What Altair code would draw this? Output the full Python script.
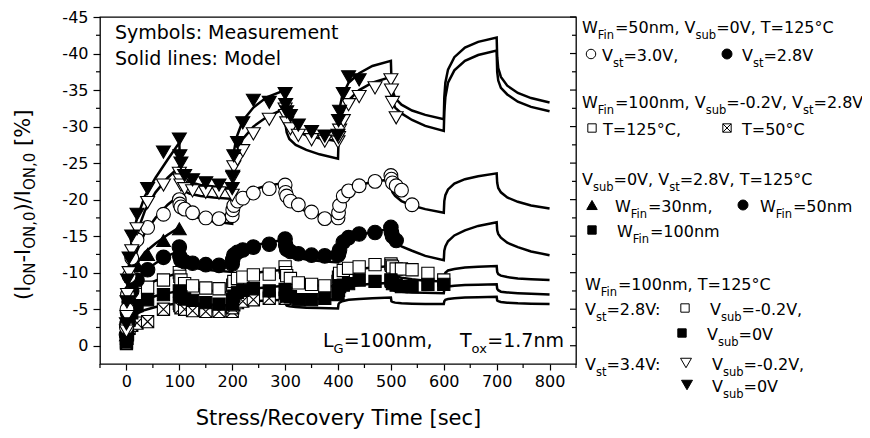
import re
import altair as alt
import pandas as pd

FONT = "DejaVu Sans"
W_PLOT, H_PLOT = 476, 347
OX, OY = 100, 17  # page position of the plot origin (8px margin + padding)

# ---------------- axes ----------------
X_DOMAIN = [-50, 850]
Y_DOMAIN = [2.5, -45]
X_TICKS = [0, 100, 200, 300, 400, 500, 600, 700, 800]
X_MINOR = [-50, 50, 150, 250, 350, 450, 550, 650, 750, 850]
Y_TICKS = [-45, -40, -35, -30, -25, -20, -15, -10, -5, 0]
Y_MINOR = [-42.5, -37.5, -32.5, -27.5, -22.5, -17.5, -12.5, -7.5, -2.5]

# ---------------- measurement data ----------------
M_T = [0, 1, 2, 5, 10, 20, 40, 70, 100,
       101, 103, 110, 125, 150, 175, 200,
       201, 203, 210, 220, 240, 270, 300,
       301, 303, 310, 325, 350, 375, 400,
       401, 403, 410, 420, 440, 470, 500,
       501, 503, 510, 520, 540, 570, 600]

# Vst=3.4V, Vsub=0V (filled down triangles)
MEAS_FT = [-3, -6, -9, -12, -15, -18, -21.5, -26.5, -28.3,
           -26, -25, -23.3, -22.7, -22.3, -22, -21.5,
           -23.2, -26, -27.8, -30.5, -33.6, -33.3, -34.5,
           -33, -32, -31.5, -30.2, -29.3, -28.7, -28.8,
           -30.8, -32.1, -34.5, -36.8, -36.4]
# Vst=3.4V, Vsub=-0.2V (open down triangles)
MEAS_OT = [-2, -4, -7, -10, -13, -16, -19.6, -22, -23.6,
           -22.7, -22, -21.5, -21.2, -21, -20.9, -20.6,
           -23, -24.5, -25.5, -26.7, -29, -31, -32.4,
           -31.5, -30.5, -29.7, -28.8, -28.2, -28, -27.9,
           -28.5, -29.5, -30.8, -33, -34.1, -35.3, -36.4,
           -35, -33.3, -31.2]
# WFin=50nm, Vst=3.0V (open circles)
MEAS_OC = [-2.5, -5, -7, -9.5, -12, -14.5, -16.2, -18, -20,
           -19.4, -19, -18.7, -18.2, -17.5, -17.4, -17.8,
           -18.6, -19.2, -19.8, -20.2, -20.9, -21.5, -22,
           -21, -20.5, -19.8, -19.3, -18.3, -17.4, -17.5,
           -18.2, -19.2, -20.5, -21.2, -21.9, -22.5, -23.3,
           -22.8, -22.3, -21.9, -21.3, -19.3]
# WFin=50nm, Vst=2.8V (filled circles)
MEAS_FC = [-1.5, -3, -4.5, -6, -7.5, -9, -10.4, -12.1, -13.5,
           -12.2, -11.7, -11.5, -11.3, -11.1, -11, -11.2,
           -11.8, -12.4, -12.8, -13.1, -13.5, -13.9, -14.6,
           -13.8, -13.2, -12.9, -12.6, -12.4, -12.3, -12.4,
           -12.6, -13.1, -14.2, -14.8, -15.3, -15.5, -16.2,
           -15.5, -15, -14.4]
# WFin=30nm (filled up triangles)
MEAS_UT = [-1.5, -3.5, -5.5, -7.5, -9.5, -11, -12.5, -14.4, -16]
# WFin=100nm, Vsub=-0.2V, T=125C (open squares)
MEAS_OS = [-1, -2.5, -3.5, -5, -6, -7, -8, -9, -10,
           -9.5, -9, -8.5, -8.2, -7.9, -7.8, -7.7,
           -8.3, -8.8, -9.2, -9.4, -9.7, -9.8, -10.8,
           -10, -9.6, -9.2, -8.6, -8.4, -8.2, -8.8,
           -9.4, -9.9, -10.3, -10.6, -10.8, -11.1, -11.2,
           -11, -10.8, -10.5, -10.5, -10.4, -9.9, -9.0]
# WFin=100nm, Vsub=0V (filled squares)
MEAS_FS = [-0.5, -1.5, -2.5, -3.5, -4.5, -5.5, -6.3, -7, -7.5,
           -7, -6.7, -6.4, -6.2, -5.9, -5.7, -5.7,
           -6.3, -6.8, -7.3, -7.6, -7.8, -7.5, -7.7,
           -7.2, -6.8, -6.7, -6.3, -6.3, -6.5, -7,
           -7.6, -8.1, -8.3, -8.5, -9, -8.8, -9,
           -8.8, -8.5, -8.3, -8.1, -8.1, -8.4, -8.4]
# WFin=100nm, T=50C (crossed squares)
MEAS_XS = [-0.3, -1, -1.6, -2.4, -2.8, -3.1, -3.3, -5, -5.8,
           -5.5, -5.2, -5, -4.8, -4.7, -4.7, -4.7,
           -5.2, -5.6, -5.9, -6.1, -6.3, -6.5, -6.5]

# ---------------- model curves ----------------
MOD_T = [0, 2, 5, 10, 20, 35, 55, 78, 100,
         101, 103, 108, 120, 140, 165, 200,
         201, 203, 208, 220, 240, 265, 300,
         301, 303, 308, 320, 340, 365, 400,
         401, 403, 408, 420, 440, 465, 500,
         501, 503, 508, 520, 540, 565, 600,
         601, 603, 608, 620, 640, 665, 700,
         701, 703, 708, 720, 740, 765, 800]

MOD_FT = [-1, -8, -11.5, -14.5, -17.5, -20.5, -23, -25.5, -27.8,
          -25, -23.8, -23, -22.4, -22, -21.8, -21.5,
          -24, -26.5, -28.5, -30.8, -32.6, -34, -35,
          -32.5, -31.2, -30.2, -29.4, -28.8, -28.4, -28,
          -30.5, -32.5, -34.2, -36, -37.3, -38.3, -39,
          -36.5, -35, -33.9, -33, -32.2, -31.6, -31,
          -34, -36, -37.8, -39.5, -40.8, -41.6, -42.2,
          -39.5, -38, -36.8, -35.6, -34.6, -33.9, -33.3]
MOD_OT = [-1, -6, -9.5, -12.5, -15.5, -18.5, -21, -23, -24.5,
          -22.5, -21.8, -21.2, -20.8, -20.5, -20.3, -20.1,
          -22.5, -24.5, -26.3, -28.3, -30, -31.3, -32.5,
          -30.2, -29.2, -28.3, -27.5, -26.8, -26.2, -25.6,
          -28, -30, -31.8, -33.6, -35, -36, -36.8,
          -34.5, -33.5, -32.6, -31.8, -30.9, -30.1, -29.4,
          -32, -34, -36, -37.7, -39, -39.8, -40.4,
          -37.5, -36.3, -35.3, -34.4, -33.4, -32.7, -32.1]
MOD_OC = [-1, -5, -8, -10.5, -13, -15.5, -17.5, -19.3, -20.6,
          -19.5, -19, -18.5, -17.9, -17.4, -17, -16.7,
          -18.3, -19.2, -20, -20.8, -21.4, -21.9, -22.3,
          -20.8, -20.2, -19.6, -19, -18.4, -17.9, -17.5,
          -19, -19.8, -20.6, -21.4, -22, -22.4, -22.8,
          -21.6, -21, -20.5, -19.8, -19.2, -18.7, -18.2,
          -19.8, -20.6, -21.4, -22.2, -22.8, -23.2, -23.6,
          -22.3, -21.6, -21, -20.3, -19.7, -19.2, -18.8]
MOD_FC = [-0.8, -3.5, -5.5, -7.2, -8.8, -10.2, -11.3, -12.3, -13,
          -12, -11.6, -11.2, -10.8, -10.5, -10.3, -10.1,
          -11.3, -12, -12.6, -13.2, -13.7, -14.1, -14.5,
          -13.3, -12.9, -12.5, -12.1, -11.8, -11.6, -11.4,
          -12.6, -13.2, -13.8, -14.5, -15.1, -15.6, -16,
          -15, -14.6, -14.2, -13.6, -13, -12.3, -11.7,
          -13, -13.6, -14.3, -15.1, -15.8, -16.4, -16.9,
          -15.8, -15.3, -14.8, -14.1, -13.5, -12.9, -12.4]
MOD_UT = [-1, -5, -7.5, -9.5, -11.3, -12.8, -14, -15.2, -16.2]
MOD_OS = [-0.5, -3.5, -5, -6.3, -7.3, -8.2, -8.9, -9.5, -10,
          -9.2, -8.8, -8.4, -8, -7.7, -7.5, -7.3,
          -8.2, -8.7, -9.1, -9.5, -9.9, -10.2, -10.4,
          -9.5, -9.2, -8.9, -8.6, -8.4, -8.2, -8.1,
          -9, -9.4, -9.8, -10.2, -10.5, -10.7, -10.9,
          -10.1, -9.8, -9.5, -9.3, -9.1, -8.9, -8.8,
          -9.6, -10, -10.3, -10.5, -10.7, -10.8, -10.9,
          -10.1, -9.8, -9.6, -9.4, -9.2, -9.1, -9.0]
MOD_FS = [-0.3, -2.5, -3.8, -4.8, -5.6, -6.3, -6.8, -7.2, -7.5,
          -6.8, -6.5, -6.2, -5.9, -5.7, -5.6, -5.5,
          -6.3, -6.7, -7.1, -7.5, -7.8, -8, -8.2,
          -7.4, -7.1, -6.9, -6.7, -6.5, -6.4, -6.3,
          -7.2, -7.5, -7.8, -8.1, -8.3, -8.5, -8.6,
          -7.9, -7.7, -7.5, -7.4, -7.3, -7.25, -7.2,
          -7.7, -7.9, -8.1, -8.2, -8.3, -8.35, -8.4,
          -7.8, -7.6, -7.4, -7.3, -7.2, -7.1, -7.0]
MOD_XS = [-0.2, -2, -3, -3.8, -4.4, -4.9, -5.3, -5.6, -5.8,
          -5.3, -5.1, -5, -4.9, -4.8, -4.7, -4.6,
          -5.2, -5.5, -5.7, -5.9, -6.1, -6.2, -6.3,
          -5.7, -5.5, -5.4, -5.3, -5.2, -5.15, -5.1,
          -5.7, -5.9, -6.1, -6.3, -6.4, -6.5, -6.6,
          -6.1, -6, -5.9, -5.8, -5.75, -5.7, -5.7,
          -6.1, -6.3, -6.4, -6.5, -6.6, -6.65, -6.7,
          -6.2, -6.1, -6, -5.9, -5.8, -5.75, -5.7]

MODELS = {"FT": MOD_FT, "OT": MOD_OT, "OC": MOD_OC, "FC": MOD_FC,
          "UT": MOD_UT, "OS": MOD_OS, "FS": MOD_FS, "XS": MOD_XS}

XBOX = "M-1,-1L1,-1L1,1L-1,1Z M-1,-1L1,1 M1,-1L-1,1"

# ---------------- scales / encodings ----------------
XS = alt.Scale(domain=X_DOMAIN, nice=False, zero=False)
YS = alt.Scale(domain=Y_DOMAIN, nice=False, zero=False)
AX_X = alt.Axis(values=X_TICKS, tickSize=6, tickWidth=1.2, tickColor="black",
                domain=False, grid=False, labelFontSize=16, labelColor="black",
                labelPadding=3, labelFlush=False, labelFont=FONT,
                title="Stress/Recovery Time [sec]", titleFontSize=21,
                titleFontWeight="normal", titleColor="black", titleFont=FONT,
                titleY=60, titleBaseline="alphabetic")
AX_Y = alt.Axis(values=Y_TICKS, tickSize=7, tickWidth=1.2, tickColor="black",
                domain=False, grid=False, labelFontSize=16, labelColor="black",
                labelPadding=5, labelFont=FONT, labelExpr="'' + datum.value",
                title=None)
X_ENC = alt.X("t:Q", scale=XS, axis=AX_X)
Y_ENC = alt.Y("v:Q", scale=YS, axis=AX_Y)

DUMMY = pd.DataFrame({"k": [0]})

layers = []

# model lines
rows = []
for name, vals in MODELS.items():
    for i, (t, v) in enumerate(zip(MOD_T, vals)):
        rows.append({"t": t, "v": v, "m": name, "o": i})
model_df = pd.DataFrame(rows)
layers.append(
    alt.Chart(model_df).mark_line(color="black", strokeWidth=2.5)
    .encode(x=X_ENC, y=Y_ENC, detail="m:N", order="o:Q")
)

# measurement markers
def marker_layer(vals, shape, fill, size):
    df = pd.DataFrame({"t": M_T[:len(vals)], "v": vals})
    return alt.Chart(df).mark_point(shape=shape, filled=True, fill=fill, stroke="black",
                                    strokeWidth=1.1, size=size, opacity=1).encode(x=X_ENC, y=Y_ENC)

layers += [
    marker_layer(MEAS_XS, XBOX, "white", 150),
    marker_layer(MEAS_OS, "square", "white", 150),
    marker_layer(MEAS_FS, "square", "black", 150),
    marker_layer(MEAS_UT, "triangle-up", "black", 190),
    marker_layer(MEAS_FC, "circle", "black", 210),
    marker_layer(MEAS_OC, "circle", "white", 190),
    marker_layer(MEAS_OT, "triangle-down", "white", 196),
    marker_layer(MEAS_FT, "triangle-down", "black", 196),
]

# minor / mirrored ticks
layers.append(alt.Chart(pd.DataFrame({"t": X_MINOR})).mark_rule(color="black", strokeWidth=1.2)
              .encode(x=X_ENC, y=alt.value(H_PLOT), y2=alt.value(H_PLOT + 4)))
layers.append(alt.Chart(pd.DataFrame({"v": Y_MINOR})).mark_rule(color="black", strokeWidth=1.2)
              .encode(y=Y_ENC, x=alt.value(-4), x2=alt.value(0)))
layers.append(alt.Chart(pd.DataFrame({"v": Y_TICKS})).mark_rule(color="black", strokeWidth=1.2)
              .encode(y=Y_ENC, x=alt.value(W_PLOT - 6), x2=alt.value(W_PLOT)))
layers.append(alt.Chart(pd.DataFrame({"v": Y_MINOR})).mark_rule(color="black", strokeWidth=1.2)
              .encode(y=Y_ENC, x=alt.value(W_PLOT - 4), x2=alt.value(W_PLOT)))

# ---------------- rich text helpers ----------------
CW = {" ": .318, "%": .950, "(": .390, ")": .390, ",": .318, "-": .361, ".": .318,
      "/": .337, ":": .337, "=": .838, "[": .390, "]": .390, "°": .500,
      "C": .698, "F": .576, "G": .775, "I": .295, "L": .557, "M": .863, "N": .748,
      "O": .787, "S": .635, "T": .611, "V": .684, "W": .989,
      "a": .613, "b": .635, "c": .550, "d": .635, "e": .615, "i": .278, "l": .278,
      "m": .974, "n": .634, "o": .612, "r": .411, "s": .521, "t": .392, "u": .634,
      "x": .592, "y": .592}
for d in "0123456789":
    CW[d] = .636


def tw(s, size):
    return sum(CW.get(ch, 0.6) for ch in s) * size


def text_layer(txt, px, py, fs, angle=0):
    kw = dict(text=txt, font=FONT, fontSize=fs, align="left", baseline="alphabetic", color="black")
    if angle:
        kw["angle"] = angle
    return alt.Chart(DUMMY).mark_text(**kw).encode(x=alt.value(px), y=alt.value(py))


def rich(markup, x, y, size, sub, shift, angle=0):
    out = []
    pos = 0.0
    for part in re.split(r"(_\{[^}]*\})", markup):
        if not part:
            continue
        is_sub = part.startswith("_{")
        txt = part[2:-1] if is_sub else part
        fs = sub if is_sub else size
        lead = len(txt) - len(txt.lstrip(" "))
        core = txt.strip(" ")
        start = pos + tw(" " * lead, fs)
        if core:
            if angle == 0:
                px, py = x + start, y + (shift if is_sub else 0)
            else:
                px, py = x + (shift if is_sub else 0), y - start
            out.append(text_layer(core, px - OX, py - OY, fs, angle))
        pos += tw(txt, fs)
    return out


def sym(px, py, shape, fill, size):
    return alt.Chart(DUMMY).mark_point(shape=shape, filled=True, fill=fill, stroke="black",
                                       strokeWidth=1, size=size, opacity=1).encode(
        x=alt.value(px - OX), y=alt.value(py - OY))


# texts inside the plot
layers += rich("Symbols: Measurement", 115, 39, 19, 13, 5)
layers += rich("Solid lines: Model", 115, 65, 19, 13, 5)
layers += rich("L_{G}=100nm,", 323, 347, 19, 13, 6)
layers += rich("T_{ox}=1.7nm", 460, 347, 19, 13, 6)

# y axis title (rotated)
layers += rich("(I_{ON}-I_{ON,0})/I_{ON,0} [%]", 30, 300, 21, 15, 5, angle=270)

# right legend
LS, LB, SH = 16, 11.5, 5.5
legend_text = [
    ("W_{Fin}=50nm, V_{sub}=0V, T=125°C", 582, 33),
    ("V_{st}=3.0V,", 602, 61),
    ("V_{st}=2.8V", 742, 61),
    ("W_{Fin}=100nm, V_{sub}=-0.2V, V_{st}=2.8V", 582, 108),
    ("T=125°C,", 603, 135),
    ("T=50°C", 742, 135),
    ("V_{sub}=0V, V_{st}=2.8V, T=125°C", 582, 185),
    ("W_{Fin}=30nm,", 615, 212),
    ("W_{Fin}=50nm", 760, 212),
    ("W_{Fin}=100nm", 617, 237),
    ("W_{Fin}=100nm, T=125°C", 585, 290),
    ("V_{st}=2.8V:", 585, 315),
    ("V_{sub}=-0.2V,", 710, 315),
    ("V_{sub}=0V", 707, 340),
    ("V_{st}=3.4V:", 585, 370),
    ("V_{sub}=-0.2V,", 712, 370),
    ("V_{sub}=0V", 712, 392),
]
for m, x, y in legend_text:
    layers += rich(m, x, y, LS, LB, SH)

layers += [
    sym(591, 54, "circle", "white", 90),
    sym(727, 54, "circle", "black", 100),
    sym(592, 128, "square", "white", 70),
    sym(727, 128, XBOX, "white", 70),
    sym(592, 205, "triangle-up", "black", 110),
    sym(743, 205, "circle", "black", 100),
    sym(592, 230, "square", "black", 70),
    sym(685, 308, "square", "white", 70),
    sym(682, 333, "square", "black", 70),
    sym(686, 363, "triangle-down", "white", 120),
    sym(687, 385, "triangle-down", "black", 120),
]

chart = alt.layer(*layers).properties(
    width=W_PLOT, height=H_PLOT,
    autosize=alt.AutoSizeParams(type="none"),
    padding={"left": 92, "top": 9, "right": 286, "bottom": 66},
).configure_view(stroke="black", strokeWidth=1.3)

chart.save("out.html", embed_options={"renderer": "svg", "actions": False})
